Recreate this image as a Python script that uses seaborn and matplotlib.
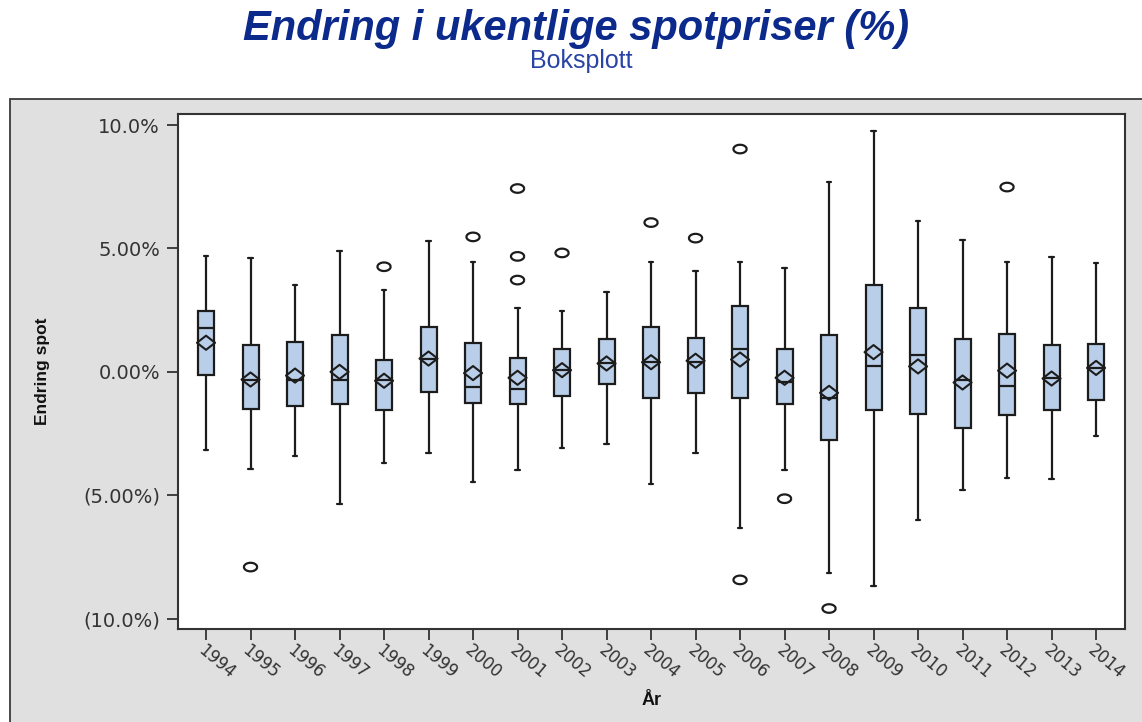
import matplotlib
matplotlib.use("Agg")
import matplotlib.pyplot as plt
from matplotlib.patches import Rectangle
from matplotlib.path import Path
import numpy as np
import seaborn as sns

# Weekly spot price change (%) per year: box statistics
years = [str(y) for y in range(1994, 2015)]
whisk_hi = [4.69, 4.62, 3.51, 4.88, 3.30, 5.31, 4.46, 2.59, 2.45, 3.23, 4.46,
            4.08, 4.46, 4.19, 7.70, 9.77, 6.11, 5.36, 4.46, 4.64, 4.41]
q3 = [2.45, 1.07, 1.23, 1.49, 0.49, 1.81, 1.18, 0.58, 0.91, 1.32, 1.81,
      1.38, 2.65, 0.91, 1.49, 3.51, 2.59, 1.32, 1.54, 1.07, 1.12]
median = [1.76, -0.31, -0.34, -0.31, -0.31, 0.54, -0.62, -0.68, 0.07, 0.34, 0.39,
          0.39, 0.91, -0.43, -1.04, 0.22, 0.69, -0.31, -0.58, -0.24, 0.16]
mean = [1.18, -0.31, -0.15, 0.00, -0.36, 0.54, -0.05, -0.24, 0.07, 0.34, 0.39,
        0.45, 0.50, -0.24, -0.85, 0.80, 0.22, -0.43, 0.05, -0.27, 0.16]
q1 = [-0.11, -1.49, -1.38, -1.32, -1.54, -0.81, -1.28, -1.32, -0.96, -0.49, -1.05,
      -0.85, -1.05, -1.32, -2.76, -1.54, -1.69, -2.27, -1.74, -1.54, -1.16]
whisk_lo = [-3.18, -3.93, -3.39, -5.35, -3.70, -3.28, -4.45, -3.97, -3.08, -2.92, -4.55,
            -3.28, -6.31, -3.97, -8.16, -8.69, -5.99, -4.77, -4.30, -4.35, -2.59]

outlier_year = ["1995", "1998", "2000", "2001", "2001", "2001", "2002",
                "2004", "2005", "2006", "2006", "2007", "2008", "2012"]
outlier_value = [-7.91, 4.26, 5.47, 7.43, 4.68, 3.72, 4.82,
                 6.05, 5.42, 9.03, -8.43, -5.14, -9.59, 7.49]

ytick_values = [10, 5, 0, -5, -10]
ytick_labels = ["10.0%", "5.00%", "0.00%", "(5.00%)", "(10.0%)"]

title = "Endring i ukentlige spotpriser (%)"
subtitle = "Boksplott"
xlabel = "År"
ylabel = "Endring spot"

sns.set_theme(style="white")
plt.rcParams["font.family"] = ["DejaVu Sans"]

W, H = 1142, 722
fig = plt.figure(figsize=(W / 100, H / 100), dpi=100)
fig.patch.set_facecolor("white")

# grey panel behind the plot
panel = Rectangle((10 / W, -0.01), 1.0, (H - 99) / H + 0.01,
                  transform=fig.transFigure, facecolor="#e0e0e0",
                  edgecolor="#3a3a3a", linewidth=1.3, zorder=-1)
fig.add_artist(panel)

ax = fig.add_axes([178 / W, (H - 629) / H, (1125 - 178) / W, (629 - 114) / H])
ax.set_zorder(2)
ax.set_facecolor("white")

line_col = "#1c1c1c"
box_col = "#b9cee8"

stats = []
for i in range(len(years)):
    stats.append(dict(label=years[i], med=median[i], q1=q1[i], q3=q3[i],
                      whislo=whisk_lo[i], whishi=whisk_hi[i], fliers=[]))

pos = np.arange(len(years))
ax.bxp(stats, positions=pos, widths=0.36, capwidths=0.1, patch_artist=True,
       showfliers=False,
       boxprops=dict(facecolor=box_col, edgecolor=line_col, linewidth=1.6),
       medianprops=dict(color=line_col, linewidth=1.6),
       whiskerprops=dict(color=line_col, linewidth=1.6),
       capprops=dict(color=line_col, linewidth=1.6))

# mean markers (flattened diamond)
diamond = Path([(-1, 0), (0, 0.78), (1, 0), (0, -0.78), (-1, 0)],
               [Path.MOVETO, Path.LINETO, Path.LINETO, Path.LINETO, Path.CLOSEPOLY])
sns.scatterplot(x=pos, y=mean, marker=diamond, s=170, facecolor="none",
                edgecolor=line_col, linewidth=1.5, ax=ax, zorder=5, legend=False)

# outliers (open ellipses)
t = np.linspace(0, 2 * np.pi, 40)
ellipse = Path(np.column_stack([np.cos(t), 0.65 * np.sin(t)]))
out_x = [years.index(y) for y in outlier_year]
sns.scatterplot(x=out_x, y=outlier_value, marker=ellipse, s=90, facecolor="none",
                edgecolor=line_col, linewidth=1.6, ax=ax, zorder=5, legend=False)

ax.set_xlim(-0.63, 20.65)
ax.set_ylim(-10.42, 10.45)
ax.set_xticks(pos)
ax.set_xticklabels(years, rotation=-40, ha="left", va="top",
                   rotation_mode="anchor", fontsize=12, color="#333333")
ax.set_yticks(ytick_values)
ax.set_yticklabels(ytick_labels, fontsize=14, color="#333333")
ax.tick_params(axis="both", which="major", direction="out", length=8, width=1.3,
               color="#333333", bottom=True, left=True)
ax.tick_params(axis="x", pad=1)
ax.tick_params(axis="y", pad=5)
for s in ax.spines.values():
    s.set_color("#333333")
    s.set_linewidth(1.5)
    s.set_visible(True)

ax.set_xlabel(xlabel, fontsize=13, fontweight="bold", family="Liberation Sans",
              color="#111111")
ax.xaxis.set_label_coords(0.5, -0.138)
ax.xaxis.label.set_va("center")
ax.set_ylabel(ylabel, fontsize=12.5, fontweight="bold", family="Liberation Sans",
              color="#111111")
ax.yaxis.set_label_coords(-0.1436, 0.5)
ax.yaxis.label.set_va("center")

fig.text(576 / W, 1 - 29 / H, title, ha="center", va="center", fontsize=30,
         fontweight="bold", fontstyle="italic", family="Liberation Sans",
         color="#0c2a8c")
fig.text(581 / W, 1 - 61 / H, subtitle, ha="center", va="center", fontsize=18,
         family="Liberation Sans", color="#2a44a6")

fig.savefig("out.png", dpi=100)
